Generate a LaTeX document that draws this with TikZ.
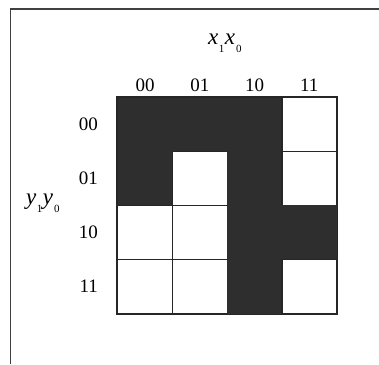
\documentclass[tikz,border=0pt]{standalone}
\usepackage{fontspec}
\setmainfont{Liberation Serif}
\usepackage{tikz}
\usetikzlibrary{positioning}

\newcommand{\lowidx}[1]{\raisebox{-8pt}{\upshape\fontsize{11}{11}\selectfont #1}}

\tikzset{
  cell/.style={draw=black!85, line width=1.4pt, minimum width=54.75pt, minimum height=54pt, inner sep=0pt, anchor=north west},
  on/.style={cell, fill=black!82, draw=black!82},
  off/.style={cell, fill=white},
  lbl/.style={font=\fontsize{19}{19}\selectfont, inner sep=0pt},
  var/.style={font=\fontsize{23}{23}\selectfont\itshape, inner sep=0pt}
}

\begin{document}
\begin{tikzpicture}[x=1pt, y=-1pt]
  \useasboundingbox (0,0) rectangle (379,364);
  % frame (only its left and top sides fall in the picture)
  \draw[black!75, line width=1.1pt] (10.5,364) -- (10.5,9) -- (379,9);
  % map cells, row by row
  \node[on]  (r0c0) at (117,97) {};
  \node[on]  (r0c1) at (171.75,97) {};
  \node[on]  (r0c2) at (226.5,97) {};
  \node[off] (r0c3) at (281.25,97) {};
  \node[on]  (r1c0) at (117,151) {};
  \node[off] (r1c1) at (171.75,151) {};
  \node[on]  (r1c2) at (226.5,151) {};
  \node[off] (r1c3) at (281.25,151) {};
  \node[off] (r2c0) at (117,205) {};
  \node[off] (r2c1) at (171.75,205) {};
  \node[on]  (r2c2) at (226.5,205) {};
  \node[on]  (r2c3) at (281.25,205) {};
  \node[off] (r3c0) at (117,259) {};
  \node[off] (r3c1) at (171.75,259) {};
  \node[on]  (r3c2) at (226.5,259) {};
  \node[off] (r3c3) at (281.25,259) {};
  % outline of the whole map
  \draw[black!85, line width=1.4pt] (r0c0.north west) rectangle (r3c3.south east);
  % column heads
  \node[lbl, above=5pt of r0c0] (h0) {00};
  \node[lbl, above=5pt of r0c1] (h1) {01};
  \node[lbl, above=5pt of r0c2] (h2) {10};
  \node[lbl, above=5pt of r0c3] (h3) {11};
  % row heads
  \node[lbl, left=19pt of r0c0] (v0) {00};
  \node[lbl, left=19pt of r1c0] (v1) {01};
  \node[lbl, left=19pt of r2c0] (v2) {10};
  \node[lbl, left=19pt of r3c0] (v3) {11};
  % variable names
  \node[var, anchor=base west] (xvar) at (208,44) {x\kern0.5pt\lowidx{1}\kern0.5pt x\kern1pt\lowidx{0}};
  \node[var, anchor=base west] (yvar) at (26,204) {y\kern0.5pt\lowidx{1}\kern0.5pt y\kern1pt\lowidx{0}};
\end{tikzpicture}
\end{document}
